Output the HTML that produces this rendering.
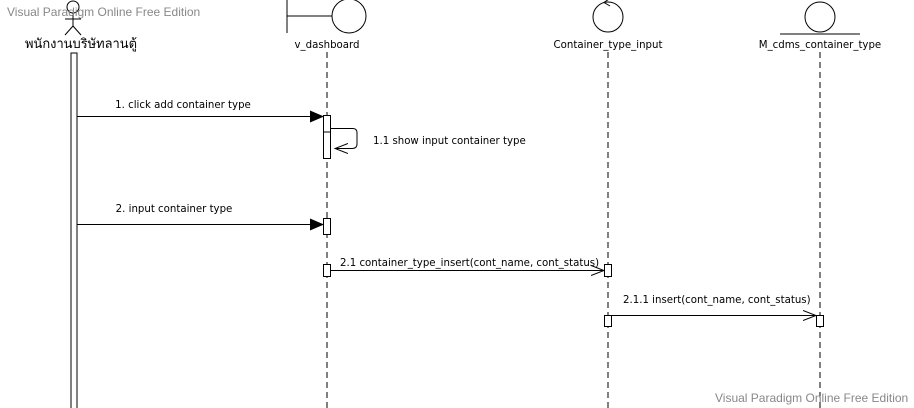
<!DOCTYPE html>
<html><head><meta charset="utf-8"><style>
html,body{margin:0;padding:0;background:#fff;}
svg{display:block;font-family:"DejaVu Sans","Liberation Sans","Noto Sans CJK SC",sans-serif;}
</style></head><body>
<svg width="914" height="408" viewBox="0 0 914 408" xmlns="http://www.w3.org/2000/svg">
<defs>
<marker id="f" markerWidth="14" markerHeight="12" refX="13" refY="6" orient="auto" markerUnits="userSpaceOnUse"><path d="M0,0 L14,6 L0,12 Z" fill="#000"/></marker>
<marker id="o" markerWidth="14" markerHeight="12" refX="13" refY="6" orient="auto" markerUnits="userSpaceOnUse"><path d="M0,1 L13,6 L0,11" fill="none" stroke="#000"/></marker>
</defs>
<g stroke="#000" fill="none" stroke-width="1">
<circle cx="73" cy="7" r="6"/>
<line x1="73" y1="13" x2="73" y2="26"/>
<line x1="65" y1="19" x2="81" y2="19"/>
<line x1="73" y1="26" x2="65" y2="35"/>
<line x1="73" y1="26" x2="81" y2="35"/>
<rect x="71" y="53" width="6" height="360" fill="#fff"/>
<line x1="287" y1="0" x2="287" y2="33"/>
<line x1="287" y1="16" x2="332" y2="16"/>
<circle cx="349" cy="16" r="17"/>
<line x1="327" y1="52" x2="327" y2="408" stroke-dasharray="6,4"/>
<circle cx="608" cy="17" r="15"/>
<path d="M610,6 L604,2.5 L609,-1"/>
<line x1="608" y1="52" x2="608" y2="408" stroke-dasharray="6,4"/>
<circle cx="820" cy="17" r="15"/>
<line x1="780" y1="34" x2="860" y2="34"/>
<line x1="820" y1="52" x2="820" y2="408" stroke-dasharray="6,4"/>
<rect x="323.5" y="115.5" width="7" height="43" fill="#fff"/>
<line x1="323.5" y1="132" x2="330.5" y2="132"/>
<rect x="323.5" y="218.5" width="7" height="16" fill="#fff"/>
<rect x="323.5" y="264.5" width="7" height="12" fill="#fff"/>
<rect x="604.5" y="264.5" width="7" height="12" fill="#fff"/>
<rect x="604.5" y="315.5" width="7" height="11" fill="#fff"/>
<rect x="816.5" y="315.5" width="7" height="11" fill="#fff"/>
<line x1="77" y1="116.5" x2="323" y2="116.5" marker-end="url(#f)"/>
<path d="M331,128.5 L353,128.5 Q357,128.5 357,133 L357,144 Q357,148.5 352,148.5 L335,148.5" marker-end="url(#o)"/>
<line x1="77" y1="224.5" x2="323" y2="224.5" marker-end="url(#f)"/>
<line x1="331" y1="270.5" x2="604" y2="270.5" marker-end="url(#o)"/>
<line x1="612" y1="315.5" x2="816" y2="315.5" marker-end="url(#o)"/>
</g>
<g font-size="10.2" fill="#000">
<text x="81" y="48" text-anchor="middle" font-size="13" textLength="112" lengthAdjust="spacingAndGlyphs">พนักงานบริษัทลานตู้</text>
<text x="327" y="48" text-anchor="middle">v_dashboard</text>
<text x="608" y="48" text-anchor="middle">Container_type_input</text>
<text x="820" y="48" text-anchor="middle">M_cdms_container_type</text>
<text x="183" y="108" text-anchor="middle">1. click add container type</text>
<text x="373" y="144">1.1 show input container type</text>
<text x="174" y="212" text-anchor="middle">2. input container type</text>
<text x="340" y="266">2.1 container_type_insert(cont_name, cont_status)</text>
<text x="623" y="303">2.1.1 insert(cont_name, cont_status)</text>
</g>
<g font-family="Liberation Sans, sans-serif" font-size="12" fill="#888">
<text x="7" y="16">Visual Paradigm Online Free Edition</text>
<text x="715" y="402">Visual Paradigm Online Free Edition</text>
</g>
</svg>
</body></html>
